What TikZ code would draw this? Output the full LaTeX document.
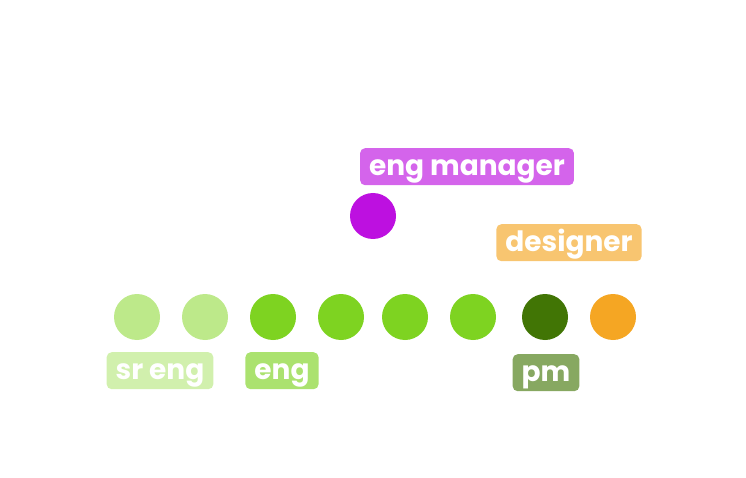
\documentclass[tikz,border=0pt]{standalone}
\usepackage{fontspec}
\setmainfont{Poppins}
\definecolor{srgreen}{HTML}{BDE98A}
\definecolor{enggreen}{HTML}{7ED321}
\definecolor{pmgreen}{HTML}{417505}
\definecolor{designorange}{HTML}{F5A623}
\definecolor{mgrpurple}{HTML}{BD10E0}
\tikzset{
  member/.style={circle, fill=#1, minimum size=46pt, inner sep=0pt},
  roletag/.style={fill=#1, rounded corners=5pt, text=white, anchor=north,
    font=\bfseries\fontsize{28}{28}\selectfont,
    text height=27pt, text depth=10pt, inner xsep=9pt, inner ysep=0pt}
}
\begin{document}
\begin{tikzpicture}[x=1pt,y=-1pt]
  \useasboundingbox (0,0) rectangle (746,478);
  % team row
  \foreach \name/\xpos/\col in {sr1/137/srgreen, sr2/205/srgreen,
      eng1/273/enggreen, eng2/341/enggreen, eng3/405/enggreen, eng4/473/enggreen,
      pm/545/pmgreen, designer/613/designorange}
    \node[member=\col] (\name) at (\xpos,317) {};
  \node[member=mgrpurple] (manager) at (373,216) {};
  % role tags
  \node[roletag=srgreen!70!white] (srtag) at (160,352) {sr eng};
  \node[roletag=enggreen!65!white] (engtag) at (282,352) {eng};
  \node[roletag=pmgreen!63!white] (pmtag) at (546,354) {pm};
  \node[roletag=mgrpurple!65!white] (mgrtag) at (467,148) {eng manager};
  \node[roletag=designorange!65!white] (designtag) at (569,224) {designer};
\end{tikzpicture}
\end{document}
